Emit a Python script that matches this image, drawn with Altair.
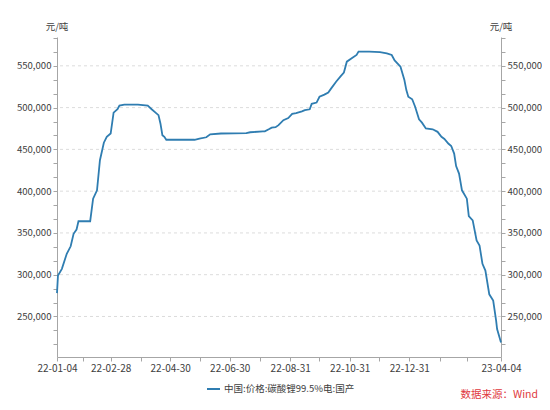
import altair as alt
import pandas as pd

# ---------------- data ----------------
dates = ["2022-01-04","2022-01-05","2022-01-09","2022-01-14","2022-01-18","2022-01-21","2022-01-24","2022-01-26","2022-02-07","2022-02-10",
         "2022-02-14","2022-02-17","2022-02-21","2022-02-24","2022-02-28","2022-03-03","2022-03-07","2022-03-09","2022-03-14","2022-03-28",
         "2022-04-07","2022-04-11","2022-04-15","2022-04-18","2022-04-20","2022-04-22","2022-04-24","2022-04-26","2022-05-25","2022-05-30",
         "2022-06-06","2022-06-10","2022-06-21","2022-07-17","2022-07-21","2022-08-03","2022-08-05","2022-08-09","2022-08-12","2022-08-16",
         "2022-08-19","2022-08-24","2022-08-29","2022-09-02","2022-09-06","2022-09-12","2022-09-15","2022-09-20","2022-09-22","2022-09-27",
         "2022-09-30","2022-10-05","2022-10-09","2022-10-12","2022-10-17","2022-10-22","2022-10-25","2022-10-28","2022-11-02","2022-11-07",
         "2022-11-09","2022-11-20","2022-12-01","2022-12-08","2022-12-13","2022-12-16","2022-12-22","2022-12-26","2022-12-28","2022-12-30",
         "2023-01-03","2023-01-06","2023-01-10","2023-01-13","2023-01-17","2023-01-24","2023-01-29","2023-02-02","2023-02-05","2023-02-09",
         "2023-02-12","2023-02-15","2023-02-17","2023-02-20","2023-02-23","2023-02-28","2023-03-02","2023-03-06","2023-03-10","2023-03-13",
         "2023-03-16","2023-03-19","2023-03-23","2023-03-27","2023-03-30","2023-03-31","2023-04-04"]

prices = [278000,299000,307000,325000,334000,349000,354000,364000,364000,391000,
          401000,437000,458000,465000,469000,494000,498000,502500,503500,503500,
          502500,498000,494000,491000,481000,467000,465000,461500,461500,463000,
          464500,468000,469000,469500,470500,471500,471500,474000,476000,476500,
          479000,485000,487500,492500,493500,495500,497000,498000,504500,506000,
          513000,515500,518000,523000,531000,538000,542000,555000,559000,563000,
          567000,567000,566500,565000,563000,556500,549000,533000,521000,513000,
          510000,501000,486000,482000,475000,474000,471000,465000,462500,457000,
          454000,445000,430000,421000,401000,391000,370000,365000,341000,335000,
          313000,305000,276500,269000,245000,235000,219000]

y_major = [250000, 300000, 350000, 400000, 450000, 500000, 550000]
x_labeled = ["2022-01-04","2022-02-28","2022-04-30","2022-06-30","2022-08-31",
             "2022-10-31","2022-12-31","2023-04-04"]
x_unlabeled = ["2022-01-31","2022-03-31","2022-05-31","2022-07-31","2022-09-30",
               "2022-11-30","2023-01-31","2023-02-28"]

series_name = "中国:价格:碳酸锂99.5%电:国产"
unit_label = "元/吨"
source_label = "数据来源：Wind"

assert len(dates) == len(prices)

# ---------------- styling ----------------
W, H = 444, 320
Y_DOMAIN = [201500, 584500]
LINE_COLOR = "#2f7db1"
AXIS_COLOR = "#a6a6a6"
TEXT_COLOR = "#404040"
FONT = "Noto Sans CJK SC"


def dt(s):
    y, m, d = (int(p) for p in s.split("-"))
    return alt.DateTime(year=y, month=m, date=d, utc=True)


step = 50000 / 3
y_ticks = []
v = 200000.0
while v <= Y_DOMAIN[1]:
    if v >= Y_DOMAIN[0]:
        y_ticks.append(v)
    v += step

x_ticks = sorted(x_labeled + x_unlabeled)
short_labels = [s[2:] for s in x_labeled]
x_label_expr = ("indexof([" + ",".join("'%s'" % s for s in short_labels) +
                "], utcFormat(datum.value, '%y-%m-%d')) >= 0 ? "
                "utcFormat(datum.value, '%y-%m-%d') : ''")
y_label_expr = ("abs(datum.value - round(datum.value / 50000) * 50000) < 1 ? "
                "format(datum.value, ',') : ''")

df = pd.DataFrame({"date": dates, "price": prices})
grid_df = pd.DataFrame({"v": y_major})
one = pd.DataFrame({"a": [0]})

yscale = alt.Scale(domain=Y_DOMAIN, nice=False, zero=False)
xscale = alt.Scale(type="utc", domain=[dt(dates[0]), dt(dates[-1])], nice=False)


def y_axis(orient):
    return alt.Axis(orient=orient, values=y_ticks, labelExpr=y_label_expr,
                    grid=False, title=None, domainColor=AXIS_COLOR,
                    tickColor=AXIS_COLOR, tickSize=4, labelPadding=2,
                    labelColor=TEXT_COLOR, labelFont=FONT, labelFontSize=9.6,
                    labelOverlap=False)


x_axis = alt.Axis(values=[dt(s) for s in x_ticks], labelExpr=x_label_expr,
                  grid=False, title=None, domainColor=AXIS_COLOR,
                  tickColor=AXIS_COLOR, tickSize=4, labelPadding=2,
                  labelColor=TEXT_COLOR, labelFont=FONT, labelFontSize=10,
                  labelFlush=False, labelOverlap=False)

grid = alt.Chart(grid_df).mark_rule(
    color="#dcdcdc", strokeDash=[3, 3], strokeWidth=1
).encode(y=alt.Y("v:Q", scale=yscale, axis=y_axis("left")))

line = alt.Chart(df).mark_line(
    color=LINE_COLOR, strokeWidth=1.8
).encode(
    x=alt.X("date:T", scale=xscale, axis=x_axis),
    y=alt.Y("price:Q", scale=yscale, axis=y_axis("right")),
)

unit_left = alt.Chart(one).mark_text(
    text=unit_label, font=FONT, fontSize=9.5, color=TEXT_COLOR,
    align="center", baseline="middle"
).encode(x=alt.value(0), y=alt.value(-10))

unit_right = alt.Chart(one).mark_text(
    text=unit_label, font=FONT, fontSize=9.5, color=TEXT_COLOR,
    align="center", baseline="middle"
).encode(x=alt.value(W), y=alt.value(-10))

legend_line = alt.Chart(one).mark_rule(
    color=LINE_COLOR, strokeWidth=2
).encode(x=alt.value(150), x2=alt.value(163), y=alt.value(352))

legend_text = alt.Chart(one).mark_text(
    text=series_name, font=FONT, fontSize=9.5, color=TEXT_COLOR,
    align="left", baseline="middle"
).encode(x=alt.value(167), y=alt.value(352))

source_text = alt.Chart(one).mark_text(
    text=source_label, font=FONT, fontSize=10.5, color="#e0393e",
    align="right", baseline="bottom"
).encode(x=alt.value(481), y=alt.value(363))

chart = alt.layer(
    grid, line, unit_left, unit_right, legend_line, legend_text, source_text
).resolve_axis(y="independent").properties(
    width=W, height=H,
    autosize=alt.AutoSizeParams(type="none"),
    padding={"left": 49, "top": 29, "right": 41, "bottom": 44},
    background="white",
).configure_view(stroke=None)

chart.save("out.html", embed_options={"renderer": "svg", "actions": False})
